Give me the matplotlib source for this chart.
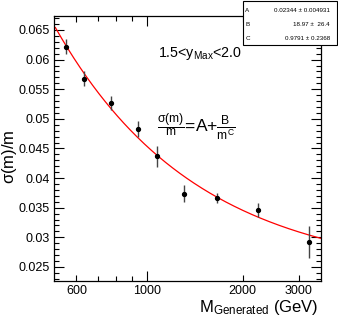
import numpy as np
import matplotlib
matplotlib.use("Agg")
import matplotlib.pyplot as plt
from matplotlib.patches import Rectangle

plt.rcParams['font.family'] = ['Liberation Sans', 'DejaVu Sans']
plt.rcParams['mathtext.fontset'] = 'custom'
plt.rcParams['mathtext.rm'] = 'Liberation Sans'
plt.rcParams['mathtext.it'] = 'Liberation Sans'

# data points
mass = [555, 635, 769, 937, 1075, 1310, 1660, 2228, 3228]
res = [0.0622, 0.0568, 0.0527, 0.0483, 0.0437, 0.0374, 0.0367, 0.0346, 0.0292]
res_err = [0.00127, 0.00125, 0.0012, 0.0014, 0.0018, 0.0014, 0.00085, 0.00125, 0.0027]

# fit parameters  sigma/m = A + B/m^C
par_names = ['A', 'B', 'C']
par_text = ['0.02344 \u00b1 0.004931', '18.97 \u00b1  26.4', '0.9791 \u00b1 0.2368']
A, B, C = 0.02344, 18.97, 0.9791

fig = plt.figure(figsize=(3.38, 3.22), dpi=100)
ax = fig.add_axes([0.1598, 0.1273, 0.7899, 0.8230])

mfit = np.logspace(np.log10(515), np.log10(3525), 300)
ax.plot(mfit, A + B / mfit**C, color='red', lw=0.9, zorder=2)
ax.errorbar(mass, res, yerr=res_err, fmt='o', color='black', ms=2.8,
            ecolor='#444444', elinewidth=1.0, capsize=0, zorder=3)

ax.set_xscale('log')
ax.set_xlim(510, 3525)
ax.set_ylim(0.02263, 0.06736)

ax.set_xticks([600, 1000, 2000, 3000])
ax.set_xticklabels(['600', '1000', '2000', '3000'])
ax.set_xticks([700, 800, 900], minor=True)
ax.xaxis.set_minor_formatter(matplotlib.ticker.NullFormatter())
ax.set_yticks(np.arange(0.025, 0.0651, 0.005))
ax.set_yticklabels(['0.025', '0.03', '0.035', '0.04', '0.045', '0.05', '0.055', '0.06', '0.065'])
ax.set_yticks(np.arange(0.023, 0.0671, 0.001), minor=True)

ax.tick_params(which='both', direction='in', top=True, right=True, labelsize=9, width=0.8, pad=3)
ax.tick_params(axis='y', which='major', length=7)
ax.tick_params(axis='y', which='minor', length=3.5)
ax.tick_params(axis='x', which='major', length=4)
ax.tick_params(axis='x', which='minor', length=3.5)
for t in ax.xaxis.get_major_ticks():
    if t.get_loc() == 1000:
        t.tick1line.set_markersize(7)
        t.tick2line.set_markersize(7)
for s in ax.spines.values():
    s.set_linewidth(0.9)

ax.set_ylabel(r'$\sigma$(m)/m', fontsize=12)
ax.yaxis.set_label_coords(-0.133, 0.47)
fig.text(0.941, 0.046, r'M$_{\mathrm{Generated}}$ (GeV)', fontsize=12, ha='right', va='center')

ax.text(0.39, 0.86, r'1.5<y$_{\mathrm{Max}}$<2.0', transform=ax.transAxes, fontsize=10.3, va='center')
ax.text(0.385, 0.58, r'$\frac{\sigma(m)}{m}$=A+$\frac{B}{m^{C}}$', transform=ax.transAxes,
        fontsize=12.5, va='center')

# stats box
fig.patches.append(Rectangle((0.719, 0.860), 0.278, 0.137, transform=fig.transFigure,
                             facecolor='white', edgecolor='black', lw=0.8, zorder=5))
for i, (n, t) in enumerate(zip(par_names, par_text)):
    y = 0.966 - i * 0.0435
    fig.text(0.726, y, n, fontsize=4.5, va='center', zorder=6)
    fig.text(0.976, y, t, fontsize=4.5, va='center', ha='right', zorder=6)

fig.savefig('out.png', dpi=100, facecolor='white')
